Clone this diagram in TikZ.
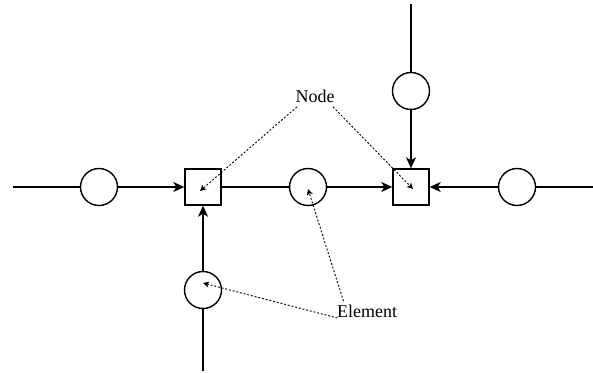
\documentclass[tikz,border=0pt]{standalone}
\usepackage{fontspec}
\setmainfont{Liberation Serif}
\usetikzlibrary{arrows.meta}
\tikzset{
	elem/.style={draw, circle, line width=1.4pt, minimum size=37pt, inner sep=0pt},
	junc/.style={draw, rectangle, line width=1.4pt, minimum size=36pt, inner sep=0pt},
	pipe/.style={line width=1.4pt},
	flow/.style={pipe, -{Stealth[length=11pt,width=10pt,inset=3pt]}},
	pointer/.style={line width=0.9pt, dash pattern=on 2pt off 1.8pt, -{Stealth[length=6pt,width=6pt,inset=1.5pt]}},
	lbl/.style={font=\fontsize{18}{21}\selectfont}
}

\begin{document}
\begin{tikzpicture}[x=1pt,y=-1pt]
			%%%%% START %%%%%
			
			\useasboundingbox (0, 0) rectangle (593, 372);
			
			\coordinate (inL) at (13, 187);
			\coordinate (inR) at (593, 187);
			\coordinate (inT) at (411, 4);
			\coordinate (inB) at (203, 371);
			
			\node[elem] (e1) at (99, 187) {};
			\node[junc] (n1) at (203, 187) {};
			\node[elem] (e2) at (308, 187) {};
			\node[junc] (n2) at (411, 187) {};
			\node[elem] (e3) at (517, 187) {};
			\node[elem] (e4) at (411, 91) {};
			\node[elem] (e5) at (203, 290) {};
			
			\draw[pipe] (inL) -- (e1);
			\draw[flow] (e1) -- (n1);
			\draw[pipe] (n1) -- (e2);
			\draw[flow] (e2) -- (n2);
			\draw[flow] (e3) -- (n2);
			\draw[pipe] (e3) -- (inR);
			
			\draw[pipe] (inT) -- (e4);
			\draw[flow] (e4) -- (n2);
			\draw[pipe] (inB) -- (e5);
			\draw[flow] (e5) -- (n1);
			
			%%%%% LABELS %%%%%
			
			\node[lbl] (lblnode) at (315, 96) {Node};
			\node[lbl] (lblelem) at (367, 311) {Element};
			
			\coordinate (t1) at (200, 191);
			\coordinate (t2) at (413, 189);
			\coordinate (t3) at (308, 189);
			\coordinate (t4) at (203, 283);
			
			\draw[pointer] ([xshift=-18pt,yshift=-1pt]lblnode.south) -- (t1);
			\draw[pointer] ([xshift=18pt,yshift=-1pt]lblnode.south) -- (t2);
			\draw[pointer] ([xshift=10pt]lblelem.north west) -- (t3);
			\draw[pointer] ([xshift=4pt,yshift=-7pt]lblelem.west) -- (t4);
			
			%%%%% END %%%%%
\end{tikzpicture}
\end{document}
